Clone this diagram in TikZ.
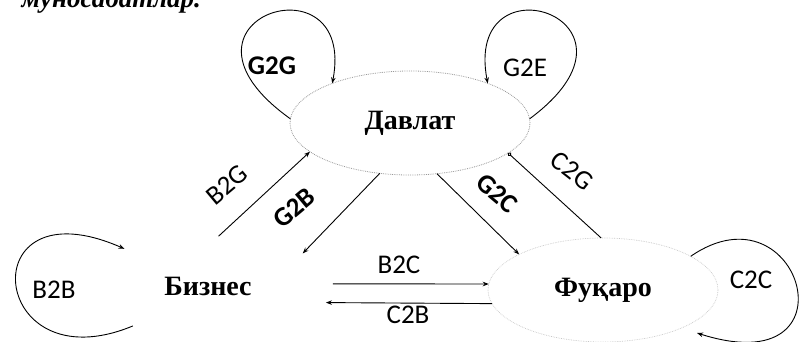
\documentclass[tikz,border=0pt]{standalone}
\usepackage{fontspec}
\setmainfont{Liberation Serif}
\newfontfamily\labfont{Carlito}
\usetikzlibrary{shapes.geometric,arrows.meta}
\begin{document}
\begin{tikzpicture}[x=1pt,y=-1pt,
  actor/.style={ellipse,inner sep=0pt,outer sep=0pt,font=\fontsize{28}{32}\selectfont\bfseries},
  rim/.style={draw=black!40,densely dotted,line width=0.8pt},
  faintrim/.style={draw=black!22,densely dotted,line width=0.7pt},
  flow/.style={line width=0.9pt,-{Stealth[length=6pt,width=4.5pt]}},
  lab/.style={font=\labfont\fontsize{27}{30}\selectfont},
  blab/.style={font=\labfont\bfseries\fontsize{27}{30}\selectfont},
]
\useasboundingbox (0,0) rectangle (805,342);
\clip (0,0) rectangle (805,342);
\node[anchor=base west,font=\fontsize{27}{30}\selectfont\bfseries\itshape] (prev) at (18,8) {муносабатлар.};
\node[actor,rim,minimum width=240pt,minimum height=104pt] (gov) at (410,123) {Давлат};
\node[actor,minimum width=250pt,minimum height=100pt] (biz) at (208,286) {Бизнес};
\node[actor,faintrim,minimum width=230pt,minimum height=104pt] (cit) at (603,290) {Фуқаро};
\node[blab] (lg2g) at (272,66) {G2G};
\node[lab] (lg2e) at (525,68) {G2E};
\node[lab,rotate=40] (lb2g) at (227,185) {B2G};
\node[blab,rotate=40] (lg2b) at (294,208) {G2B};
\node[blab,rotate=-40] (lg2c) at (497,193) {G2C};
\node[lab,rotate=-38] (lc2g) at (572,171) {C2G};
\node[lab] (lb2c) at (399,265) {B2C};
\node[lab] (lc2b) at (408,315) {C2B};
\node[lab] (lb2b) at (54,290) {B2B};
\node[lab] (lc2c) at (751,280) {C2C};
\draw[flow] (biz.78) -- (gov.196);
\draw[flow] (gov.239) -- (biz.19);
\draw[flow] (gov.298) -- (cit.157);
\draw[line width=0.9pt,-{Circle[open,length=4pt]}] (cit.92) -- (gov.343);
\draw[flow] (biz.1) -- (cit.177);
\draw[flow] (cit.187) -- (biz.-8);
\draw[flow] (gov.178) .. controls +(-140,-100) and +(25,-130) .. (gov.153);
\draw[flow] (gov.2) .. controls +(135,-100) and +(-25,-130) .. (gov.27);
\draw[flow] (biz.208) .. controls +(-145,60) and +(-155,-68) .. (biz.156);
\coordinate (c2ce) at (697,333);
\draw[flow] (cit.21) .. controls +(110,-76) and +(163,52) .. (c2ce);
\end{tikzpicture}
\end{document}
